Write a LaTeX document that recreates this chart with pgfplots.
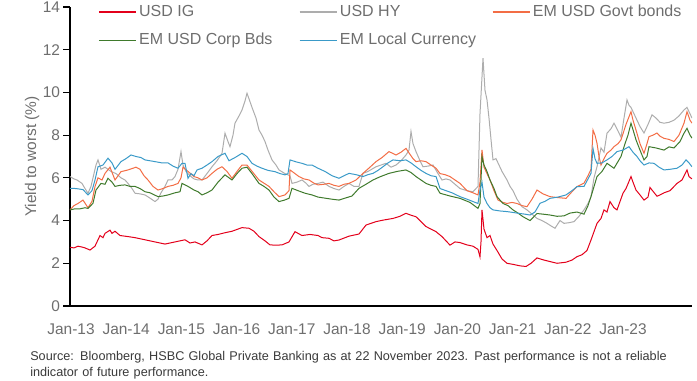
\documentclass[border=0pt]{standalone}
\usepackage{fontspec}
\setmainfont{Liberation Sans}
\usepackage{pgfplots}
\pgfplotsset{compat=1.18}
\definecolor{cIG}{HTML}{E3001B}
\definecolor{cHY}{HTML}{ADADAD}
\definecolor{cGov}{HTML}{F36D45}
\definecolor{cCorp}{HTML}{3F7A2C}
\definecolor{cLoc}{HTML}{3A9AC8}
\definecolor{tgray}{HTML}{6E6E6E}
\definecolor{fgray}{HTML}{3A3A3A}
\begin{document}
\begin{tikzpicture}
\begin{axis}[
  at={(0,0)}, anchor=south west,
  scale only axis, width=466.5pt, height=224.25pt,
  xmin=70, xmax=692, ymin=0, ymax=14,
  axis lines=left, axis line style={-, black, line width=0.8pt},
  ytick={0,2,...,14}, tick align=outside, major tick length=5pt,
  y tick style={black, line width=0.8pt},
  xtick={71,126.2,181.4,236.6,291.8,347,402.2,457.4,512.6,567.8,623},
  xticklabels={Jan-13,Jan-14,Jan-15,Jan-16,Jan-17,Jan-18,Jan-19,Jan-20,Jan-21,Jan-22,Jan-23},
  x tick style={draw=none},
  xticklabel style={yshift=-5pt},
  yticklabel style={xshift=1pt},
  tick label style={font=\fontsize{11.6}{13}\selectfont, text=tgray},
  /pgf/number format/assume math mode=true,
  ylabel={Yield to worst (\%)},
  every axis y label/.style={at={(axis description cs:-0.061,0.5)}, rotate=90, anchor=center, font=\fontsize{11.6}{13}\selectfont, text=tgray},
  legend style={draw=none, fill=none, at={(axis cs:94,14.35)}, anchor=north west,
    font=\fontsize{12}{14}\selectfont, text=tgray, row sep=7pt,
    /tikz/every even column/.append style={column sep=0pt}},
  legend columns=3,
  legend image code/.code={\draw[#1, line width=0.9pt] (0pt,0pt) -- (27.75pt,0pt);},
  every axis plot/.append style={line width=0.75pt, mark=none},
]
\addplot[cIG] coordinates {
(70,2.75)(74,2.72)(78,2.8)(82,2.76)(85,2.72)(90,2.62)(95,2.8)(100,3.3)(103,3.2)(105,3.4)(110,3.55)(112,3.4)(115,3.5)(120,3.3)(128,3.25)(135,3.2)(140,3.15)(145,3.1)(150,3.05)(155,3.0)(160,2.95)(165,2.9)(170,2.95)(175,3.0)(180,3.05)(185,3.1)(190,2.95)(195,3.0)(202,2.86)(207,3.05)(212,3.3)(218,3.35)(225,3.43)(232,3.5)(242,3.67)(249,3.64)(254,3.5)(259,3.25)(265,3.05)(270,2.86)(276,2.85)(282,2.86)(289,3.0)(295,3.48)(302,3.3)(310,3.35)(318,3.3)(322,3.2)(329,3.17)(334,3.05)(339,3.09)(349,3.27)(359,3.37)(366,3.79)(376,3.95)(383,4.02)(393,4.1)(400,4.2)(406,4.34)(411,4.25)(416,4.18)(421,3.95)(426,3.72)(436,3.48)(442,3.25)(445,3.1)(450,2.85)(455,3.0)(460,2.97)(467,2.86)(473,2.8)(478,2.65)(480,2.3)(481,3.0)(482,4.5)(484,3.6)(487,3.2)(490,3.3)(493,2.9)(497,2.6)(502,2.2)(507,2.0)(513,1.95)(520,1.88)(526,1.85)(531,2.0)(537,2.25)(544,2.15)(550,2.08)(557,2.0)(566,2.05)(572,2.15)(577,2.31)(582,2.4)(587,2.6)(591,3.09)(597,3.87)(601,4.1)(604,4.5)(607,4.4)(610,4.89)(614,4.6)(617,4.5)(623,5.28)(626,5.5)(631,6.06)(633,5.8)(636,5.43)(640,5.2)(644,4.96)(648,5.1)(650,5.55)(652,5.43)(657,5.14)(660,5.2)(664,5.3)(670,5.4)(677,5.74)(682,5.9)(687,6.37)(689,6.06)(692,5.95)
};
\addlegendentry{\makebox[118pt][l]{USD IG}}
\addplot[cHY] coordinates {
(70,6.06)(74,5.95)(77,5.9)(82,5.74)(85,5.5)(88,5.28)(91,5.6)(93,6.0)(96,6.6)(98,6.84)(101,6.4)(105,6.5)(111,6.3)(116,6.2)(121,6.0)(125,5.9)(128,5.74)(132,5.5)(135,5.28)(140,5.25)(145,5.2)(150,5.05)(155,4.89)(158,5.0)(161,5.3)(165,5.6)(168,5.9)(172,5.9)(175,6.06)(178,6.4)(181,7.23)(183,6.6)(186,6.3)(190,6.1)(194,5.95)(198,5.9)(202,5.9)(207,6.2)(212,6.52)(217,6.8)(222,7.15)(225,8.09)(228,7.7)(230,7.46)(233,8.0)(235,8.56)(239,8.9)(242,9.18)(245,9.6)(247,9.96)(249,9.7)(252,9.3)(256,8.8)(259,8.24)(262,8.0)(265,7.7)(268,7.3)(272,6.84)(276,6.6)(279,6.37)(285,6.2)(290,6.1)(292,5.74)(297,5.8)(302,5.9)(306,5.75)(309,5.6)(313,5.7)(318,5.74)(323,5.8)(329,5.6)(334,5.5)(339,5.43)(344,5.6)(349,5.74)(354,5.6)(359,5.6)(363,6.21)(368,6.3)(376,6.52)(381,6.6)(386,6.68)(391,6.5)(396,6.6)(401,6.8)(406,7.07)(409,7.3)(411,8.17)(413,7.6)(416,7.23)(420,6.8)(423,6.52)(428,6.55)(433,6.6)(438,6.2)(442,5.9)(446,5.95)(450,5.9)(455,5.7)(460,5.5)(467,5.4)(473,5.35)(478,5.6)(480,9.0)(483,11.6)(485,10.1)(487,9.65)(489,8.8)(491,7.8)(493,6.84)(496,6.9)(498,6.7)(502,6.3)(507,5.9)(510,5.6)(513,5.4)(517,5.0)(522,4.65)(527,4.5)(532,4.3)(537,4.1)(542,4.0)(547,3.87)(551,3.75)(555,3.64)(560,4.0)(564,3.87)(569,3.9)(574,3.95)(579,4.2)(584,4.5)(588,4.8)(591,5.12)(594,6.0)(597,6.52)(601,7.4)(604,7.2)(607,8.09)(611,8.3)(614,8.56)(618,8.2)(621,7.9)(624,8.8)(627,9.65)(629,9.4)(631,9.3)(634,9.0)(636,8.8)(640,8.4)(644,8.1)(648,8.5)(652,8.95)(656,8.8)(660,8.6)(664,8.56)(669,8.6)(674,8.7)(679,8.9)(684,9.18)(687,9.3)(690,9.0)(692,8.8)
};
\addlegendentry{\makebox[112pt][l]{USD HY}}
\addplot[cGov] coordinates {
(70,4.5)(74,4.7)(78,4.8)(83,4.96)(88,4.6)(92,4.9)(95,5.59)(98,6.0)(102,5.9)(105,6.21)(110,6.5)(115,5.9)(121,6.29)(128,6.37)(133,6.45)(136,6.5)(140,6.4)(144,6.1)(148,5.9)(153,5.6)(158,5.43)(163,5.5)(168,5.6)(173,5.65)(178,5.74)(181,6.0)(183,6.5)(188,6.3)(194,6.06)(198,6.0)(202,5.9)(207,6.0)(212,6.21)(217,6.4)(222,6.52)(227,6.3)(232,5.98)(237,6.3)(242,6.6)(247,6.6)(253,6.25)(259,5.9)(264,5.75)(269,5.6)(274,5.35)(279,5.12)(285,5.2)(289,5.4)(290,6.37)(295,6.2)(299,6.06)(304,5.95)(309,5.9)(314,5.75)(318,5.67)(324,5.7)(329,5.74)(334,5.65)(339,5.6)(344,5.7)(349,5.74)(356,5.9)(363,6.21)(370,6.5)(376,6.76)(382,6.95)(389,7.23)(396,7.07)(401,7.2)(406,7.38)(410,7.1)(413,6.9)(416,6.76)(421,6.8)(426,6.76)(431,6.6)(436,6.45)(440,6.2)(445,6.15)(450,6.06)(455,5.9)(460,5.74)(467,5.4)(473,5.3)(478,5.2)(480,5.8)(482,7.31)(484,6.5)(487,6.2)(490,5.9)(494,5.4)(498,4.96)(503,4.85)(507,4.8)(512,4.85)(517,4.8)(522,4.7)(527,4.65)(532,5.0)(537,5.43)(543,5.25)(550,5.12)(557,5.08)(566,5.04)(571,5.3)(577,5.59)(584,5.75)(588,6.1)(591,6.4)(593,8.24)(595,8.0)(597,7.62)(599,7.0)(601,6.6)(604,6.9)(607,7.15)(611,7.3)(614,7.46)(618,7.6)(621,7.78)(626,8.5)(631,9.1)(633,8.7)(636,8.24)(640,7.6)(644,7.15)(647,7.6)(649,7.93)(653,8.0)(657,8.1)(660,7.95)(664,7.85)(669,7.8)(674,7.7)(679,8.0)(684,8.56)(687,9.1)(690,8.7)(692,8.56)
};
\addlegendentry{EM USD Govt bonds}
\addplot[cCorp] coordinates {
(70,4.5)(75,4.55)(80,4.55)(85,4.6)(88,4.57)(93,4.81)(96,5.43)(101,5.74)(105,5.7)(108,5.98)(112,5.8)(115,5.6)(120,5.65)(125,5.67)(130,5.6)(135,5.6)(140,5.5)(145,5.35)(150,5.3)(158,5.12)(163,5.15)(168,5.2)(175,5.3)(180,5.35)(182,5.74)(188,5.6)(194,5.43)(198,5.35)(202,5.2)(207,5.3)(212,5.43)(218,5.8)(225,6.14)(232,5.9)(237,6.2)(242,6.45)(247,6.5)(252,6.2)(259,5.74)(264,5.6)(269,5.43)(274,5.1)(279,4.89)(284,4.95)(289,5.04)(292,5.51)(298,5.4)(305,5.28)(312,5.2)(318,5.1)(325,5.05)(332,5.0)(339,4.96)(345,5.05)(352,5.15)(359,5.51)(366,5.7)(373,5.9)(380,6.05)(389,6.21)(397,6.3)(406,6.37)(411,6.25)(416,6.06)(421,5.9)(426,5.74)(431,5.65)(436,5.6)(440,5.28)(450,5.15)(460,5.04)(470,4.85)(478,4.57)(480,4.8)(482,7.0)(484,6.6)(487,6.3)(490,5.9)(494,5.5)(497,5.12)(503,4.8)(508,4.7)(513,4.5)(518,4.35)(523,4.18)(530,4.0)(537,4.33)(543,4.3)(550,4.26)(557,4.2)(564,4.22)(570,4.35)(577,4.4)(584,4.3)(588,4.7)(591,5.12)(597,6.06)(602,6.3)(607,6.68)(614,6.45)(621,7.0)(625,7.6)(628,8.0)(631,8.56)(634,8.1)(636,7.78)(640,7.3)(644,6.84)(647,7.0)(649,7.46)(656,7.4)(664,7.3)(669,7.45)(674,7.4)(680,7.7)(684,8.09)(687,8.32)(690,8.0)(692,7.86)
};
\addlegendentry{\makebox[118pt][l]{EM USD Corp Bds}}
\addplot[cLoc] coordinates {
(70,5.51)(76,5.5)(83,5.45)(88,5.2)(92,5.4)(95,5.9)(98,6.52)(103,6.6)(108,6.92)(112,6.7)(115,6.4)(121,6.76)(126,6.9)(131,7.07)(136,7.0)(141,6.95)(145,6.84)(150,6.8)(155,6.76)(162,6.7)(168,6.7)(173,6.55)(178,6.45)(182,6.68)(185,6.68)(188,5.98)(191,6.2)(194,6.1)(197,6.37)(202,6.45)(207,6.6)(212,6.76)(218,7.0)(225,7.15)(229,6.8)(235,6.95)(242,7.15)(247,7.0)(252,6.68)(257,6.55)(262,6.45)(268,6.35)(275,6.29)(280,6.2)(285,6.14)(288,6.2)(290,6.84)(296,6.75)(302,6.68)(307,6.6)(312,6.6)(318,6.45)(325,6.3)(332,6.1)(339,5.98)(344,6.1)(349,6.21)(356,6.15)(363,6.06)(368,6.15)(373,6.21)(378,6.35)(383,6.52)(388,6.7)(393,6.84)(400,6.8)(406,6.84)(411,6.7)(416,6.52)(421,6.35)(426,6.21)(431,6.1)(436,6.06)(440,5.5)(446,5.4)(452,5.3)(460,5.12)(467,5.0)(473,4.89)(478,4.8)(480,5.43)(482,5.8)(484,5.1)(487,4.8)(490,4.6)(493,4.5)(500,4.45)(507,4.42)(513,4.38)(520,4.33)(525,4.3)(530,4.26)(535,4.4)(540,4.81)(545,4.9)(550,5.04)(558,5.1)(566,5.2)(572,5.4)(577,5.59)(584,5.6)(591,6.21)(593,7.38)(595,6.9)(597,6.68)(602,6.7)(607,6.84)(612,7.0)(617,7.23)(623,7.3)(629,7.46)(633,7.2)(637,7.0)(640,6.8)(644,6.6)(649,6.7)(654,6.68)(659,6.5)(664,6.37)(670,6.4)(677,6.45)(682,6.6)(686,6.84)(689,6.7)(692,6.52)
};
\addlegendentry{\makebox[112pt][l]{EM Local Currency}}
\end{axis}
\node[anchor=north west, text width=510pt, align=left, inner sep=0pt, text=fgray,
  font=\fontsize{9.5}{12}\selectfont] at (-30pt,-34pt)
  {Source: Bloomberg, HSBC Global Private Banking as at 22 November 2023. Past performance is not a reliable\\ indicator of future performance.};
\pgfresetboundingbox
\path (-52.5pt,-56.25pt) rectangle (470.25pt,229.5pt);
\end{tikzpicture}
\end{document}
